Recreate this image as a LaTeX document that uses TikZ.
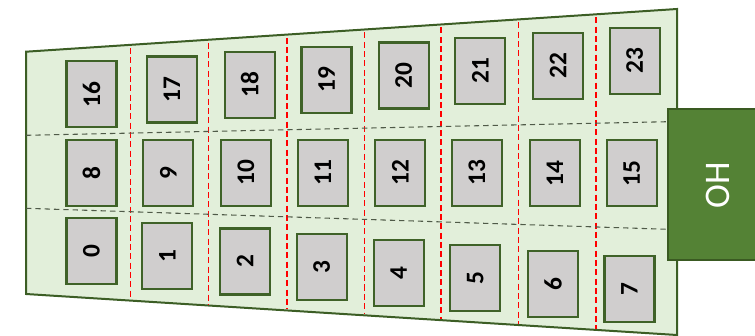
\documentclass[tikz,border=0pt]{standalone}
\usepackage{fontspec}
\setmainfont{Carlito}
\definecolor{trapfill}{HTML}{E2EFDA}
\definecolor{trapdraw}{HTML}{3C5E25}
\definecolor{boxfill}{HTML}{D0CECE}
\definecolor{boxdraw}{HTML}{3F6228}
\definecolor{ohfill}{HTML}{548235}
\definecolor{ohdraw}{HTML}{3A5A22}
\definecolor{rowline}{HTML}{4F5A48}
\begin{document}
\begin{tikzpicture}[x=0.75pt,y=-0.75pt,
  seat/.style={draw=boxdraw,fill=boxfill,line width=1.6pt,minimum width=49.5pt,minimum height=37.5pt,inner sep=0pt,
    font=\fontsize{19}{21}\selectfont\bfseries,rotate=90},
  rowsep/.style={draw=rowline,line width=0.8pt,dash pattern=on 4pt off 3pt},
  colsep/.style={draw=red,line width=0.8pt,dash pattern=on 4.5pt off 2.5pt},
]
\useasboundingbox (0,0) rectangle (755,335);
\clip (0,0) rectangle (755,335);
% trapezoid
\coordinate (TL) at (26,51.7);
\coordinate (TR) at (677,9);
\coordinate (BR) at (677,335);
\coordinate (BL) at (26,294);
\draw[draw=trapdraw,fill=trapfill,line width=1.5pt] (TL) -- (TR) -- (BR) -- (BL) -- cycle;
% red column separators
\foreach \xx in {130.5,208.5,287,364.5,441,518.5,596}{
  \draw[colsep] (\xx,{51.7-0.0656*(\xx-26)+3}) -- (\xx,{294+0.0625*(\xx-26)-1});
}
% row separators
\coordinate (r1a) at (26,135.3);
\coordinate (r1b) at (668,121.7);
\coordinate (r2a) at (26,208.3);
\coordinate (r2b) at (668,229.3);
\draw[rowsep] (r1a) -- (r1b);
\draw[rowsep] (r2a) -- (r2b);
% seats
\node[seat] (b16) at (91.5,94.2) {16};
\node[seat] (b17) at (172,89.5) {17};
\node[seat] (b18) at (249.8,84.7) {18};
\node[seat] (b19) at (326.5,79.8) {19};
\node[seat] (b20) at (403.7,75.5) {20};
\node[seat] (b21) at (480.2,70.7) {21};
\node[seat] (b22) at (558,65.7) {22};
\node[seat] (b23) at (634.7,61) {23};
\node[seat] (b8) at (91.5,172.7) {8};
\node[seat] (b9) at (168.2,172.7) {9};
\node[seat] (b10) at (246,172.7) {10};
\node[seat] (b11) at (323,172.7) {11};
\node[seat] (b12) at (400.2,173) {12};
\node[seat] (b13) at (476.8,173) {13};
\node[seat] (b14) at (555,173.2) {14};
\node[seat] (b15) at (631.7,173.2) {15};
\node[seat] (b0) at (91.5,250.8) {0};
\node[seat] (b1) at (167.3,256) {1};
\node[seat] (b2) at (245,261.5) {2};
\node[seat] (b3) at (321.7,266.8) {3};
\node[seat] (b4) at (398.7,272.7) {4};
\node[seat] (b5) at (475.2,278.3) {5};
\node[seat] (b6) at (553,283.7) {6};
\node[seat] (b7) at (629.5,289.2) {7};
% OH box
\draw[draw=ohdraw,fill=ohfill,line width=1.5pt] (668,109) rectangle (790,260);
\node[text=white,rotate=90,font=\fontsize{27}{30}\selectfont,inner sep=0pt] (oh) at (718,185) {OH};
\end{tikzpicture}
\end{document}
